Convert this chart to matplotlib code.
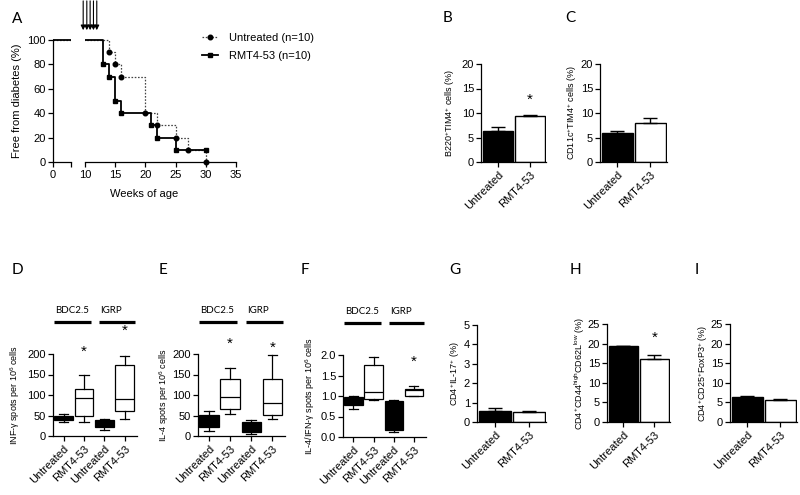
import numpy as np
import matplotlib
matplotlib.use("Agg")
import matplotlib.pyplot as plt
from matplotlib import transforms

W, H = 800, 495

plt.rcParams['font.family'] = ['Liberation Sans', 'DejaVu Sans']
plt.rcParams['mathtext.default'] = 'regular'
plt.rcParams['font.size'] = 8
plt.rcParams['axes.linewidth'] = 0.9
plt.rcParams['xtick.major.width'] = 0.9
plt.rcParams['ytick.major.width'] = 0.9
plt.rcParams['xtick.major.size'] = 3.5
plt.rcParams['ytick.major.size'] = 3.5
plt.rcParams['xtick.major.pad'] = 2
plt.rcParams['ytick.major.pad'] = 1.5

# ---- Panel A: diabetes-free survival ----
weeks_untreated = [0, 14, 15, 16, 20, 22, 25, 27, 30]
free_untreated = [100, 90, 80, 70, 40, 30, 20, 10, 0]
weeks_rmt = [0, 13, 14, 15, 16, 21, 22, 25, 30]
free_rmt = [100, 80, 70, 50, 40, 30, 20, 10, 10]
dose_weeks = [9.7, 10.3, 10.85, 11.4, 11.95]

groups = ["Untreated", "RMT4-53"]

# ---- Bar panels (mean, upper SEM) ----
b_mean = [6.4, 9.4]
b_err = [0.75, 0.2]
c_mean = [5.9, 7.9]
c_err = [0.5, 1.15]
g_mean = [0.55, 0.5]
g_err = [0.18, 0.05]
h_mean = [19.3, 16.1]
h_err = [0.2, 0.9]
i_mean = [6.3, 5.7]
i_err = [0.45, 0.2]

# ---- Box panels: Untreated/RMT4-53 for BDC2.5, then IGRP ----
box_labels = ["Untreated", "RMT4-53", "Untreated", "RMT4-53"]
peptides = ["BDC2.5", "IGRP"]
d_lo = [35, 35, 15, 42]
d_q1 = [39, 50, 21, 60]
d_med = [43, 92, 30, 91]
d_q3 = [49, 114, 40, 173]
d_hi = [53, 150, 42, 195]
e_lo = [13, 53, 5, 42]
e_q1 = [23, 67, 10, 52]
e_med = [40, 94, 19, 80]
e_q3 = [51, 138, 34, 139]
e_hi = [62, 167, 39, 198]
f_lo = [0.69, 0.90, 0.12, 1.0]
f_q1 = [0.79, 0.92, 0.18, 1.0]
f_med = [0.90, 1.10, 0.50, 1.14]
f_q3 = [0.98, 1.76, 0.88, 1.18]
f_hi = [1.0, 1.94, 0.90, 1.25]

# significance stars: (position, height)
b_stars = [(1, 12.7)]
h_stars = [(1, 21.4)]
d_stars = [(2, 205), (4, 256)]
e_stars = [(2, 224), (4, 215)]
f_stars = [(4, 1.84)]

fig = plt.figure(figsize=(W / 100, H / 100), dpi=100)


def px_axes(l, t, r, b):
    return fig.add_axes([l / W, 1 - b / H, (r - l) / W, (b - t) / H])


def style(ax):
    ax.spines['top'].set_visible(False)
    ax.spines['right'].set_visible(False)


def ylabel_at(ax, text, xpx, size=6.5):
    ax.set_ylabel(text, fontsize=size, va='center')
    tr = transforms.blended_transform_factory(fig.transFigure, ax.transAxes)
    ax.yaxis.set_label_coords(xpx / W, 0.5, transform=tr)


def panel_letter(letter, xpx, ypx):
    fig.text(xpx / W, 1 - ypx / H, letter, fontsize=11, family='Lato',
             ha='center', va='center')


def add_stars(ax, stars):
    for pos, y in stars:
        ax.text(pos, y, "*", fontsize=11, ha='center', va='center')


def bar_panel(rect, mean, err, ylim, step, label, lab_x, stars=()):
    ax = px_axes(*rect)
    style(ax)
    x = np.arange(len(groups))
    ax.bar(x, mean, width=0.92, color=['black', 'white'], edgecolor='black',
           linewidth=1, zorder=2)
    ax.errorbar(x, mean, yerr=[np.zeros(len(err)), err], fmt='none',
                ecolor='black', elinewidth=1, capsize=5, capthick=1, zorder=3)
    ax.set_xlim(-0.53, 1.5)
    ax.set_ylim(*ylim)
    ax.set_yticks(np.arange(ylim[0], ylim[1] + step / 2, step))
    ax.set_xticks(x)
    ax.set_xticklabels(groups, rotation=45, ha='right', rotation_mode='anchor')
    ylabel_at(ax, label, lab_x)
    add_stars(ax, stars)
    return ax


def box_panel(rect, lo, q1, med, q3, hi, ylim, step, label, lab_x, stars,
              fmt=None):
    ax = px_axes(*rect)
    style(ax)
    stats = [dict(whislo=lo[k], q1=q1[k], med=med[k], q3=q3[k], whishi=hi[k],
                  fliers=[]) for k in range(len(lo))]
    pos = np.arange(1, len(lo) + 1)
    bp = ax.bxp(stats, positions=pos, widths=0.92, capwidths=0.45,
                patch_artist=True, showfliers=False,
                boxprops=dict(linewidth=0.9, edgecolor='black'),
                whiskerprops=dict(linewidth=0.9),
                capprops=dict(linewidth=0.9),
                medianprops=dict(color='black', linewidth=0.9))
    for k, patch in enumerate(bp['boxes']):
        patch.set_facecolor('black' if k % 2 == 0 else 'white')
    ax.set_xlim(0.48, 4.6)
    ax.set_ylim(*ylim)
    ticks = np.arange(ylim[0], ylim[1] + step / 2, step)
    ax.set_yticks(ticks)
    if fmt:
        ax.set_yticklabels([fmt.format(t) for t in ticks])
    ax.set_xticks(pos)
    ax.set_xticklabels(box_labels, rotation=45, ha='right',
                       rotation_mode='anchor')
    ylabel_at(ax, label, lab_x)
    add_stars(ax, stars)
    # peptide group bars above the panel
    span = [(0.55, 2.35), (2.75, 4.5)]
    bt = ax.get_xaxis_transform()
    for (x0, x1), name in zip(span, peptides):
        ax.plot([x0, x1], [1.39, 1.39], color='black', lw=2.3,
                transform=bt, clip_on=False, solid_capstyle='butt')
        ax.text(x0 + 0.05, 1.53, name, transform=bt, family='Lato',
                fontsize=7, ha='left', va='center')
    return ax


# ---- Panel A ----
ax1 = px_axes(53, 36.3, 71, 165.7)
ax2 = px_axes(85, 36.3, 236, 165.7)
for ax in (ax1, ax2):
    style(ax)
    ax.set_ylim(-3, 103)
    ax.spines['bottom'].set_position(('data', 0))
    for w, f, ls, lw, mk, col, lab in [
            (weeks_untreated, free_untreated, (0, (1.3, 1.3)), 0.9, 'o', '#444444', "Untreated (n=10)"),
            (weeks_rmt, free_rmt, '-', 1.3, 's', 'black', "RMT4-53 (n=10)")]:
        ax.plot(w, f, drawstyle='steps-post', linestyle=ls, lw=lw, color=col,
                marker=mk, markersize=3.3, markerfacecolor='black',
                markeredgecolor='black', markevery=slice(1, None), label=lab)
ax1.spines['left'].set_bounds(0, 100)
ax1.set_yticks([0, 20, 40, 60, 80, 100])
ax1.set_xlim(0, 3)
ax1.set_xticks([0, 3])
ax1.set_xticklabels(['0', ''])
ax2.spines['left'].set_visible(False)
ax2.set_yticks([])
ax2.set_xlim(10, 35)
ax2.set_xticks([10, 15, 20, 25, 30, 35])
ylabel_at(ax1, "Free from diabetes (%)", 17, size=8)
fig.text(144 / W, 1 - 194 / H, "Weeks of age", fontsize=8, ha='center',
         va='center')
for w in dose_weeks:
    ax2.annotate('', xy=(w, 108), xytext=(w, 132),
                 arrowprops=dict(arrowstyle='-|>', color='black', lw=0.8,
                                 mutation_scale=7, shrinkA=0, shrinkB=0),
                 annotation_clip=False)
ax2.legend(loc='upper left', bbox_to_anchor=(202 / W, 1 - 33 / H),
           bbox_transform=fig.transFigure, frameon=False, fontsize=8,
           handlelength=1.4, handletextpad=1.0, labelspacing=0.75,
           borderpad=0, borderaxespad=0)

# ---- Panels B, C ----
bar_panel((481, 64, 546, 162), b_mean, b_err, (0, 20), 5,
          r"B220$^{+}$TIM4$^{+}$ cells (%)", 450, b_stars)
bar_panel((600, 64, 667, 162), c_mean, c_err, (0, 20), 5,
          r"CD11c$^{+}$TIM4$^{+}$ cells (%)", 572)

# ---- Panels D, E, F ----
box_panel((53, 354, 137, 436), d_lo, d_q1, d_med, d_q3, d_hi, (0, 200), 50,
          r"INF-γ spots per 10$^{6}$ cells", 15, d_stars)
box_panel((198, 354, 285, 436), e_lo, e_q1, e_med, e_q3, e_hi, (0, 200), 50,
          r"IL-4 spots per 10$^{6}$ cells", 164, e_stars)
box_panel((343, 355, 426, 437), f_lo, f_q1, f_med, f_q3, f_hi, (0, 2), 0.5,
          r"IL-4/IFN-γ spots per 10$^{6}$ cells", 310, f_stars, fmt="{:.1f}")

# ---- Panels G, H, I ----
bar_panel((477, 325, 546, 422), g_mean, g_err, (0, 5), 1,
          r"CD4$^{+}$IL-17$^{+}$ (%)", 455)
bar_panel((607, 324, 670, 422), h_mean, h_err, (0, 25), 5,
          r"CD4$^{+}$CD44$^{high}$CD62L$^{low}$ (%)", 580, h_stars)
bar_panel((730, 324, 797, 422), i_mean, i_err, (0, 25), 5,
          r"CD4$^{+}$CD25$^{+}$FoxP3$^{+}$ (%)", 703)

for letter, x, y in [("A", 17, 19), ("B", 447, 18), ("C", 570, 18),
                     ("D", 17, 270), ("E", 163, 270), ("F", 305, 270),
                     ("G", 455, 270), ("H", 575, 270), ("I", 697, 270)]:
    panel_letter(letter, x, y)

fig.savefig("out.png", dpi=100)
